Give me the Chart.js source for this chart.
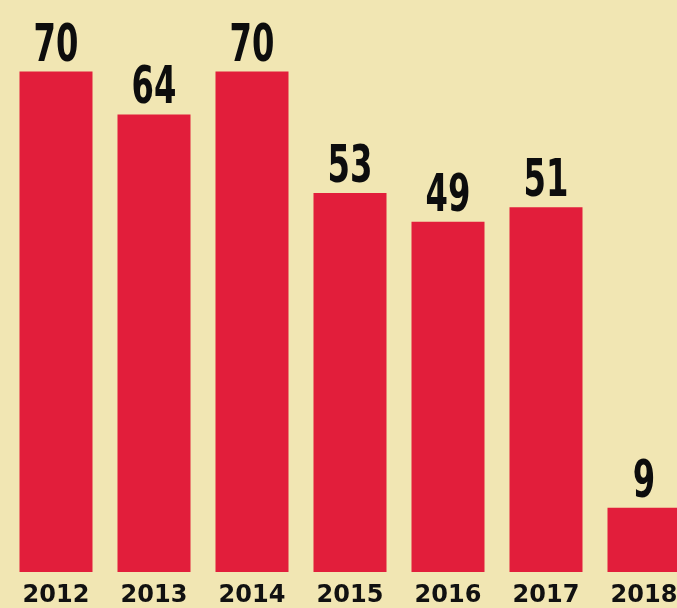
<!DOCTYPE html>
<html>
<head>
<meta charset="utf-8">
<script src="https://cdn.jsdelivr.net/npm/chart.js@4"></script>
<style>
  html, body { margin: 0; padding: 0; overflow: hidden; background: #f1e6b3; }
  #wrap { width: 700px; height: 608px; }
</style>
</head>
<body>
<div id="wrap"><canvas id="chart"></canvas></div>
<script>
// values
const years = ['2012', '2013', '2014', '2015', '2016', '2017', '2018'];
const counts = [70, 64, 70, 53, 49, 51, 9];

const barColor = '#e21e3b';

// big condensed numbers above each bar
const valueLabels = {
    id: 'valueLabels',
    afterDatasetsDraw(chart) {
        const ctx = chart.ctx;
        const meta = chart.getDatasetMeta(0);
        ctx.save();
        ctx.fillStyle = '#0d0d0d';
        ctx.font = 'bold 52px "DejaVu Sans"';
        ctx.textAlign = 'center';
        ctx.textBaseline = 'alphabetic';
        meta.data.forEach((bar, i) => {
            ctx.save();
            ctx.translate(bar.x, bar.y - 11);
            ctx.scale(0.62, 1);
            ctx.fillText(String(counts[i]), 0, 0);
            ctx.restore();
        });
        ctx.restore();
    }
};

new Chart(document.getElementById('chart'), {
    type: 'bar',
    data: {
        labels: years,
        datasets: [{
            data: counts,
            backgroundColor: barColor,
            borderWidth: 0,
            categoryPercentage: 1,
            barPercentage: 0.745
        }]
    },
    options: {
        responsive: true,
        maintainAspectRatio: false,
        animation: false,
        layout: { padding: { left: 7, right: 7, top: 0, bottom: 0 } },
        plugins: {
            legend: { display: false },
            tooltip: { enabled: false }
        },
        scales: {
            x: {
                grid: { display: false, drawTicks: false },
                border: { display: false },
                ticks: {
                    color: '#111',
                    font: { family: 'DejaVu Sans', size: 24, weight: 'bold' },
                    padding: 9,
                    maxRotation: 0
                },
                afterFit(scale) { scale.height = 36; }
            },
            y: {
                display: false,
                min: 0,
                max: 80
            }
        }
    },
    plugins: [valueLabels]
});
</script>
</body>
</html>
